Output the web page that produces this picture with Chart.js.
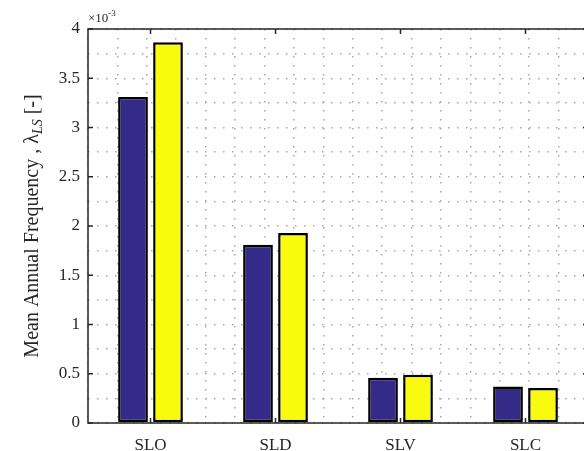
<!DOCTYPE html>
<html>
<head>
<meta charset="utf-8">
<script src="https://cdn.jsdelivr.net/npm/chart.js@4/dist/chart.umd.min.js"></script>
<style>
  html, body { margin: 0; padding: 0; background: #fff; overflow: hidden; }
  #wrap { position: absolute; left: 0; top: 0; width: 592px; height: 451px; }
</style>
</head>
<body>
<div id="wrap"><canvas id="lsChart" width="592" height="451"></canvas></div>
<script>
// limit states and mean annual frequency of exceedance (values in 1/yr)
const limitStates = ['SLO', 'SLD', 'SLV', 'SLC'];
const seriesA = [3.31e-3, 1.81e-3, 0.46e-3, 0.37e-3];
const seriesB = [3.865e-3, 1.93e-3, 0.49e-3, 0.355e-3];
const yMax = 4e-3;
const yStep = 0.25e-3;   // grid spacing, labels every 0.5e-3

const axisColor = '#262626';
const gridDots = { color: '#a8a8a8', lineWidth: 1.5, drawTicks: false };
const dotBorder = { display: false, dash: [1.5, 7.5] };
const serif = 'Liberation Serif';

// MATLAB style box with inward ticks, the x10^-3 multiplier and the y label
const matlabAxes = {
  id: 'matlabAxes',
  afterDatasetsDraw(chart) {
    const { ctx, chartArea: a, scales } = chart;
    const x = scales.x, y = scales.y;
    const tl = 5;
    ctx.save();
    ctx.strokeStyle = axisColor;
    ctx.lineWidth = 1.5;
    ctx.strokeRect(a.left, a.top, a.right - a.left, a.bottom - a.top);
    ctx.beginPath();
    y.ticks.forEach(t => {
      if (Math.round(t.value * 1e4) % 5 !== 0) return;
      const py = y.getPixelForValue(t.value);
      ctx.moveTo(a.left, py); ctx.lineTo(a.left + tl, py);
      ctx.moveTo(a.right, py); ctx.lineTo(a.right - tl, py);
    });
    limitStates.forEach((c, i) => {
      const px = x.getPixelForValue(i);
      ctx.moveTo(px, a.bottom); ctx.lineTo(px, a.bottom - tl);
      ctx.moveTo(px, a.top); ctx.lineTo(px, a.top + tl);
    });
    ctx.stroke();

    // exponent label
    ctx.fillStyle = axisColor;
    ctx.textBaseline = 'alphabetic';
    ctx.textAlign = 'left';
    ctx.font = '13px "' + serif + '"';
    const base = '\u00d710';
    ctx.fillText(base, a.left, a.top - 7);
    const bw = ctx.measureText(base).width;
    ctx.font = '9px "' + serif + '"';
    ctx.fillText('-3', a.left + bw, a.top - 13);

    // rotated y axis title with subscript
    const parts = [
      { t: 'Mean Annual Frequency , \u03bb', f: '20px "' + serif + '"', dy: 0 },
      { t: 'LS', f: 'italic 14px "' + serif + '"', dy: 4 },
      { t: ' [-]', f: '20px "' + serif + '"', dy: 0 }
    ];
    let total = 0;
    parts.forEach(p => { ctx.font = p.f; p.w = ctx.measureText(p.t).width; total += p.w; });
    ctx.translate(38, (a.top + a.bottom) / 2);
    ctx.rotate(-Math.PI / 2);
    let cx = -total / 2;
    parts.forEach(p => {
      ctx.font = p.f;
      ctx.fillText(p.t, cx, p.dy);
      cx += p.w;
    });
    ctx.restore();
  }
};

new Chart(document.getElementById('lsChart').getContext('2d'), {
  type: 'bar',
  data: {
    labels: limitStates,
    datasets: [{
      label: 'Series A',
      data: seriesA,
      backgroundColor: '#352a87',
      borderColor: '#000000',
      borderWidth: 2.5,
      borderSkipped: false
    }, {
      label: 'Series B',
      data: seriesB,
      backgroundColor: '#f9fb0e',
      borderColor: '#000000',
      borderWidth: 2.5,
      borderSkipped: false
    }]
  },
  options: {
    responsive: false,
    animation: false,
    devicePixelRatio: 1,
    categoryPercentage: 0.56,
    barPercentage: 0.85,
    layout: { padding: { left: 0, top: 29, right: 4, bottom: 0 } },
    plugins: { legend: { display: false }, tooltip: { enabled: false } },
    scales: {
      x: {
        position: 'bottom',
        grid: { display: false },
        border: { display: false },
        ticks: { color: axisColor, padding: 4, font: { family: serif, size: 17 } },
        afterFit(s) { s.height = 28; }
      },
      xMinor: {
        type: 'linear',
        position: 'bottom',
        min: 0.5,
        max: 4.5,
        grid: gridDots,
        border: dotBorder,
        ticks: { display: false, stepSize: 0.25 },
        afterFit(s) { s.height = 0; }
      },
      y: {
        min: 0,
        max: yMax,
        grid: gridDots,
        border: dotBorder,
        ticks: {
          stepSize: yStep,
          autoSkip: false,
          padding: 8,
          color: axisColor,
          font: { family: serif, size: 17 },
          callback: v => (Math.round(v * 1e4) % 5 === 0 ? String(Math.round(v * 1e4) / 10) : '')
        },
        afterFit(s) { s.width = 88; }
      }
    }
  },
  plugins: [matlabAxes]
});
</script>
</body>
</html>
